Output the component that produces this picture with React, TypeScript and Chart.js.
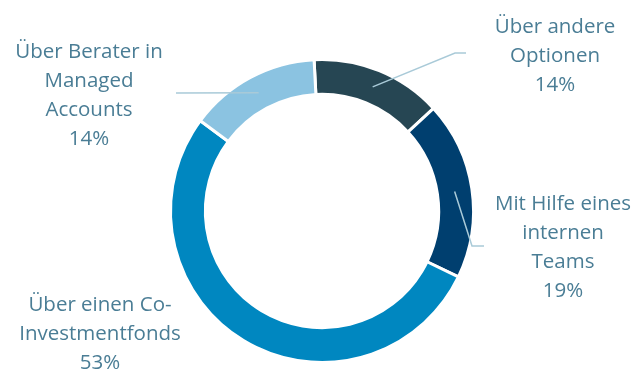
import React, { useEffect, useRef } from "react";
import { Chart, registerables } from "chart.js";

Chart.register(...registerables);

const categories = [
  "Über andere Optionen",
  "Mit Hilfe eines internen Teams",
  "Über einen Co-Investmentfonds",
  "Über Berater in Managed Accounts",
];
const shares = [14, 19, 53, 14];
const labelLines = [
  ["Über andere", "Optionen", "14%"],
  ["Mit Hilfe eines", "internen", "Teams", "19%"],
  ["Über einen Co-", "Investmentfonds", "53%"],
  ["Über Berater in", "Managed", "Accounts", "14%"],
];
const colors = ["#264653", "#003f6f", "#0087c0", "#8bc3e1"];

const labelLayout = [
  { tx: 555, ty: 27, leader: [[455, 53], [466, 53]] },
  { tx: 563, ty: 204, leader: [[472, 246], [484, 246]] },
  { tx: 100, ty: 305, leader: null },
  { tx: 89, ty: 52, leader: [[176, 93]] },
];

const labelPlugin = {
  id: "outerLabels",
  afterDatasetsDraw(chart: any) {
    const ctx = chart.ctx;
    const meta = chart.getDatasetMeta(0);
    ctx.save();
    meta.data.forEach((arc: any, i: number) => {
      const lay = labelLayout[i];
      const p = arc.getProps(["x", "y", "startAngle", "endAngle", "innerRadius", "outerRadius"], true);
      const mid = (p.startAngle + p.endAngle) / 2;
      const r = (p.innerRadius + p.outerRadius) / 2;
      const sx = p.x + Math.cos(mid) * r;
      const sy = p.y + Math.sin(mid) * r;
      if (lay.leader) {
        ctx.beginPath();
        ctx.strokeStyle = "#a9cad8";
        ctx.lineWidth = 1.5;
        ctx.moveTo(sx, sy);
        lay.leader.forEach((pt: number[]) => ctx.lineTo(pt[0], pt[1]));
        ctx.stroke();
      }
      ctx.fillStyle = "#4a7d95";
      ctx.font = "20.5px 'Open Sans'";
      ctx.textAlign = "center";
      ctx.textBaseline = "middle";
      labelLines[i].forEach((ln, k) => {
        ctx.fillText(ln, lay.tx, lay.ty + k * 29);
      });
    });
    ctx.restore();
  },
};

export default function App() {
  const ref = useRef<HTMLCanvasElement>(null);
  useEffect(() => {
    if (!ref.current) return;
    const chart = new Chart(ref.current, {
      type: "doughnut",
      data: {
        labels: categories,
        datasets: [
          {
            data: shares,
            backgroundColor: colors,
            borderColor: "#ffffff",
            borderWidth: 3,
          },
        ],
      },
      options: {
        animation: false,
        responsive: false,
        cutout: "77%",
        rotation: -3,
        layout: { padding: { top: 58, bottom: 5, left: 98, right: 91 } },
        plugins: {
          legend: { display: false },
          tooltip: { enabled: false },
        },
      },
      plugins: [labelPlugin],
    });
    return () => chart.destroy();
  }, []);
  return (
    <div style={{ position: "fixed", left: 0, top: 0, width: 637, height: 369, background: "#fff" }}>
      <canvas ref={ref} width={637} height={369} style={{ width: 637, height: 369 }} />
    </div>
  );
}
